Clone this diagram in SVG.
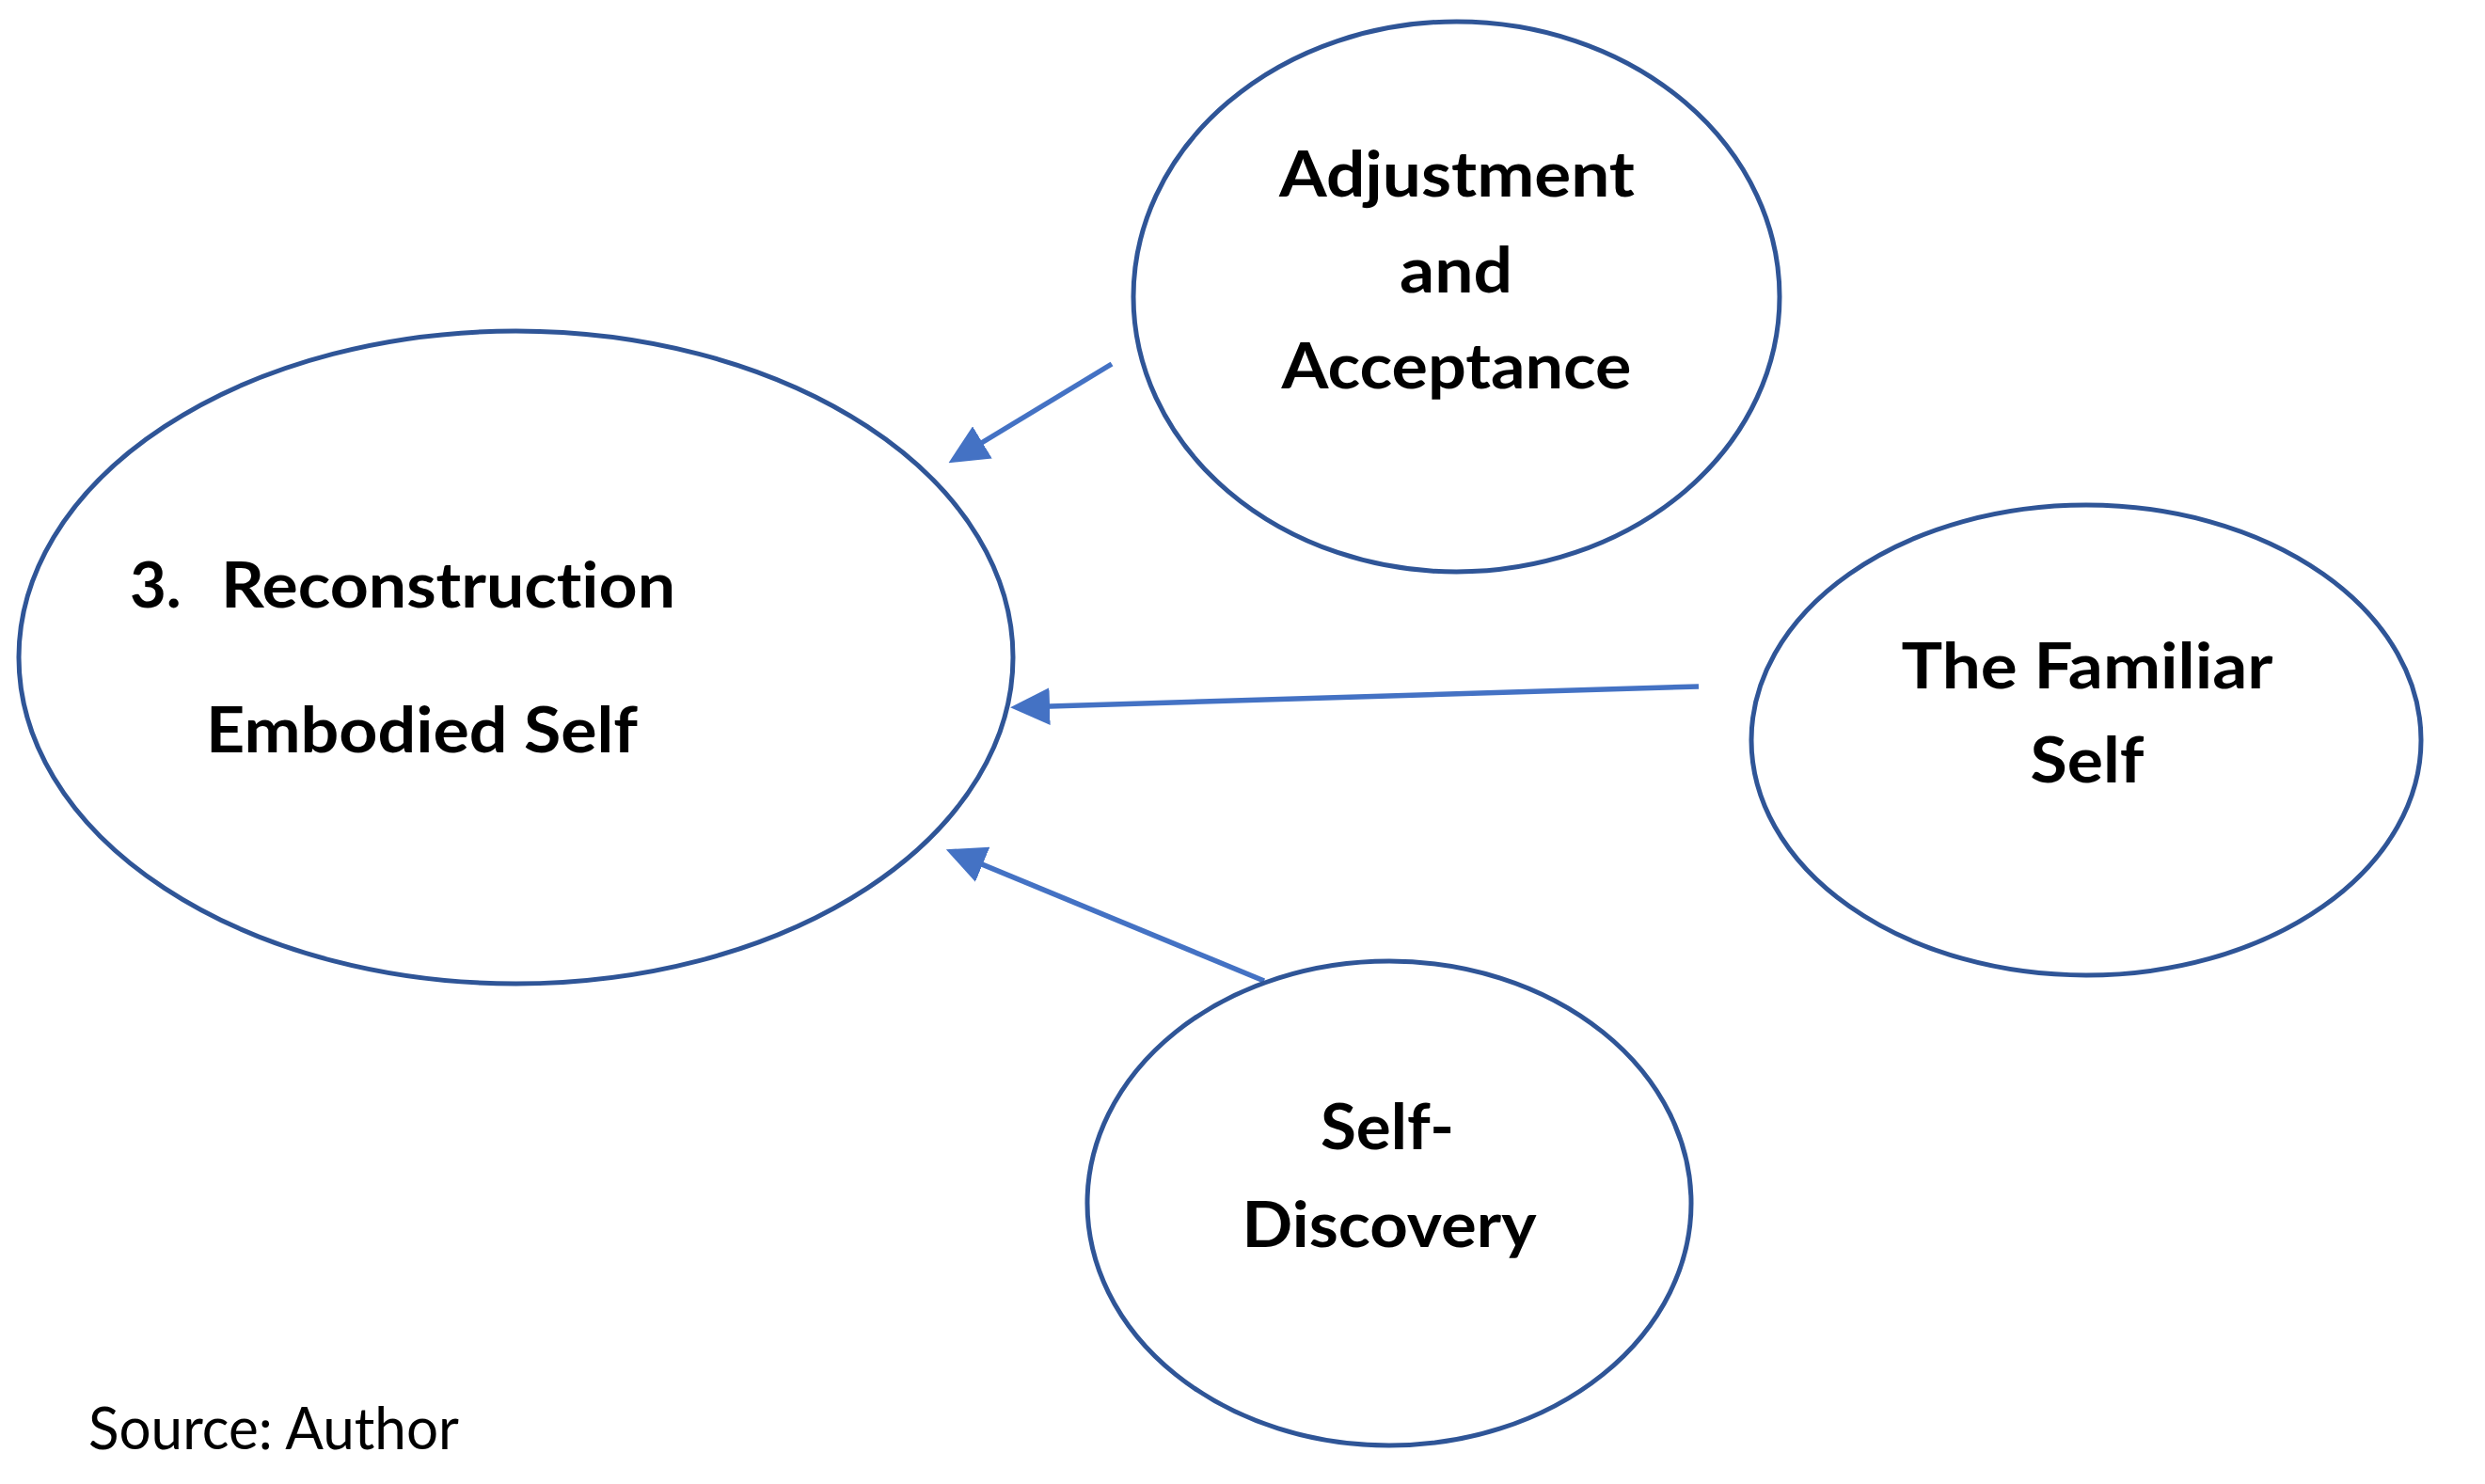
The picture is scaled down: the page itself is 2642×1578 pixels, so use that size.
<svg xmlns="http://www.w3.org/2000/svg" width="2642" height="1578" viewBox="0 0 2642 1578">
  <style>
    .node { fill: #ffffff; stroke: #2F5597; stroke-width: 5; }
    .lbl { font-family: Lato, "Liberation Sans", Arial, sans-serif; font-weight: bold; font-size: 67px; fill: #000000; font-variant-ligatures: none; }
    .mid { text-anchor: middle; }
    .src { font-family: Lato, "Liberation Sans", Arial, sans-serif; font-size: 61px; fill: #000000; }
    .conn { stroke: #4472C4; stroke-width: 5.5; fill: none; marker-end: url(#arrow); }
  </style>
  <defs>
    <marker id="arrow" markerUnits="userSpaceOnUse" markerWidth="42" markerHeight="40" viewBox="0 0 38 36" refX="29" refY="18" orient="auto">
      <path d="M0,0 L38,18 L0,36 z" fill="#4472C4"/>
    </marker>
  </defs>
  <rect x="0" y="0" width="2642" height="1578" fill="#ffffff"/>

  <g id="connectors">
    <line class="conn" x1="1182" y1="387" x2="1017" y2="487"/>
    <line class="conn" x1="1806" y1="730" x2="1084" y2="752"/>
    <line class="conn" x1="1344" y1="1043" x2="1015" y2="907"/>
  </g>

  <g id="node-reconstruction">
    <ellipse class="node" cx="548.5" cy="699" rx="528.5" ry="347"/>
    <text class="lbl" x="138" y="646">3.</text>
    <text class="lbl" x="235" y="646" textLength="483" lengthAdjust="spacingAndGlyphs">Reconstruction</text>
    <text class="lbl" x="219" y="800" textLength="459" lengthAdjust="spacingAndGlyphs">Embodied Self</text>
  </g>

  <g id="node-adjustment">
    <ellipse class="node" cx="1548.5" cy="315.5" rx="343.5" ry="292.5"/>
    <text class="lbl mid" x="1549" y="209" textLength="378" lengthAdjust="spacingAndGlyphs">Adjustment</text>
    <text class="lbl mid" x="1548" y="311" textLength="120" lengthAdjust="spacingAndGlyphs">and</text>
    <text class="lbl mid" x="1548.5" y="413" textLength="372" lengthAdjust="spacingAndGlyphs">Acceptance</text>
  </g>

  <g id="node-familiar">
    <ellipse class="node" cx="2218" cy="787" rx="356" ry="250"/>
    <text class="lbl mid" x="2219" y="732" textLength="395" lengthAdjust="spacingAndGlyphs">The Familiar</text>
    <text class="lbl mid" x="2219" y="832" textLength="121" lengthAdjust="spacingAndGlyphs">Self</text>
  </g>

  <g id="node-discovery">
    <ellipse class="node" cx="1477" cy="1279.5" rx="321" ry="257.5"/>
    <text class="lbl mid" x="1475" y="1222" textLength="142" lengthAdjust="spacingAndGlyphs">Self-</text>
    <text class="lbl mid" x="1477" y="1326" textLength="313" lengthAdjust="spacingAndGlyphs">Discovery</text>
  </g>

  <text class="src" x="94" y="1541" textLength="394" lengthAdjust="spacingAndGlyphs">Source: Author</text>
</svg>
